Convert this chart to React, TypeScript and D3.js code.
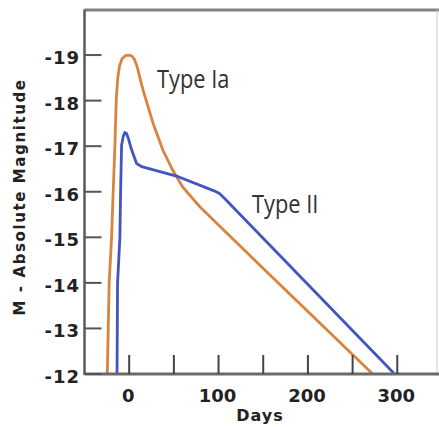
import React from "react";
import * as d3 from "d3";

const typeIaDays = [-24.5, -22.4, -19.7, -17.9, -16, -14.5, -12.8, -10.8, -8, -4, 0, 3, 6, 9, 12, 16, 26.8, 38, 48, 60, 79, 153.5, 272.5];
const typeIaMag = [-12, -14, -15, -16, -17, -18, -18.5, -18.76, -18.92, -18.99, -19, -18.98, -18.9, -18.74, -18.5, -18.2, -17.5, -16.9, -16.5, -16.1, -15.67, -14.25, -12];

const typeIIDays = [-13.6, -13, -10.4, -9.6, -8.5, -6.6, -4.8, -3, -1.1, 2.7, 8.3, 13.9, 55, 95, 101, 106, 297];
const typeIIMag = [-12, -14, -15, -16, -17.02, -17.22, -17.3, -17.28, -17.18, -16.92, -16.62, -16.55, -16.33, -16.02, -15.96, -15.87, -12];

const xTicks = [0, 50, 100, 150, 200, 250, 300];
const xTickLabels = [0, 100, 200, 300];
const yTicks = [-19, -18, -17, -16, -15, -14, -13, -12];

const W = 439;
const H = 427;
const left = 84.5;
const right = 437.5;
const top = 9.5;
const bottom = 374;

export default function App() {
  const x = d3.scaleLinear().domain([-50, 345]).range([left, right]);
  const y = d3.scaleLinear().domain([-20, -12]).range([top, bottom]);

  const line = d3
    .line<[number, number]>()
    .x((d) => x(d[0]))
    .y((d) => y(d[1]))
    .curve(d3.curveLinear);

  const ia = typeIaDays.map((d, i) => [d, typeIaMag[i]] as [number, number]);
  const ii = typeIIDays.map((d, i) => [d, typeIIMag[i]] as [number, number]);

  const boldFont = "'DejaVu Sans', Verdana, sans-serif";

  return (
    <svg
      width={W}
      height={H}
      style={{ position: "absolute", left: 0, top: 0, background: "#fff" }}
    >
      <rect x={0} y={0} width={W} height={H} fill="#fff" />
      {/* frame */}
      <line x1={left} x2={W} y1={top + 0.5} y2={top + 0.5} stroke="#808080" strokeWidth={3} />
      <line x1={right - 0.5} x2={right - 0.5} y1={top} y2={bottom} stroke="#c8c8c8" strokeWidth={1} />

      {/* curves */}
      <path d={line(ia) || ""} fill="none" stroke="#d8843f" strokeWidth={2.8} strokeLinejoin="round" />
      <path d={line(ii) || ""} fill="none" stroke="#4454c0" strokeWidth={2.8} strokeLinejoin="round" />

      {/* axes */}
      <line x1={left} x2={left} y1={top} y2={bottom + 1} stroke="#5a5a5a" strokeWidth={2.5} />
      <line x1={left} x2={W} y1={bottom} y2={bottom} stroke="#6a6a6a" strokeWidth={3} />

      {yTicks.map((t) => (
        <g key={"y" + t}>
          <line x1={left} x2={left + 17} y1={y(t)} y2={y(t)} stroke="#555" strokeWidth={2} />
          <text
            x={80}
            y={y(t) + 9}
            textAnchor="end"
            fontFamily={boldFont}
            fontWeight="bold"
            fontSize={18}
            letterSpacing={1}
            fill="#222"
          >
            {String(t)}
          </text>
        </g>
      ))}

      {xTicks.map((t) => (
        <line key={"x" + t} x1={x(t)} x2={x(t)} y1={bottom - 19} y2={bottom} stroke="#444" strokeWidth={2} />
      ))}
      {xTickLabels.map((t) => (
        <text
          key={"xl" + t}
          x={x(t) - 1}
          y={401.5}
          textAnchor="middle"
          fontFamily={boldFont}
          fontWeight="bold"
          fontSize={18}
          fill="#222"
        >
          {String(t)}
        </text>
      ))}

      <text
        x={260}
        y={421}
        textAnchor="middle"
        fontFamily={boldFont}
        fontWeight="bold"
        fontSize={16}
        letterSpacing={1}
        fill="#222"
      >
        Days
      </text>

      <text
        transform={`translate(25, 197) rotate(-90)`}
        textAnchor="middle"
        fontFamily={boldFont}
        fontWeight="bold"
        fontSize={15}
        letterSpacing={1.6}
        fill="#222"
      >
        M - Absolute Magnitude
      </text>

      <text
        transform="translate(157, 88.3) scale(0.84, 1)"
        fontFamily="'Open Sans', sans-serif"
        fontSize={26}
        fill="#333"
      >
        Type Ia
      </text>
      <text
        transform="translate(252, 213.3) scale(0.84, 1)"
        fontFamily="'Open Sans', sans-serif"
        fontSize={26}
        fill="#333"
      >
        Type II
      </text>
    </svg>
  );
}
